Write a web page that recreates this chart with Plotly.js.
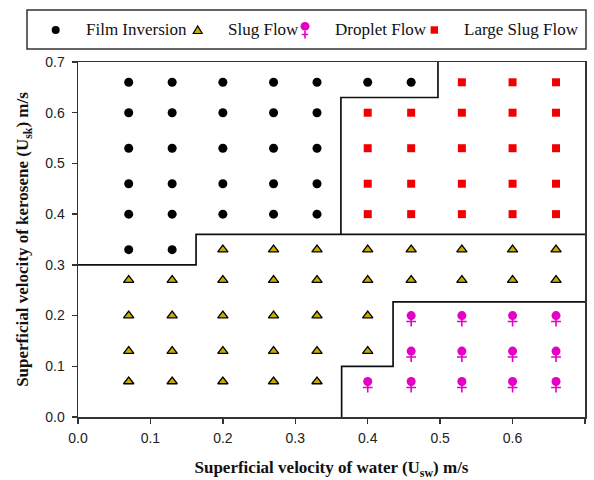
<!DOCTYPE html>
<html><head><meta charset="utf-8">
<script src="https://cdn.plot.ly/plotly-3.0.1.min.js"></script>
<style>html,body{margin:0;padding:0;background:#fff}#chart{width:594px;height:480px}</style>
</head><body><div id="chart"></div>
<script>
// ---- data ----
const filmX = [0.07,0.13,0.20,0.27,0.33,0.40,0.46,
               0.07,0.13,0.20,0.27,0.33,
               0.07,0.13,0.20,0.27,0.33,
               0.07,0.13,0.20,0.27,0.33,
               0.07,0.13,0.20,0.27,0.33,
               0.07,0.13];
const filmY = [0.66,0.66,0.66,0.66,0.66,0.66,0.66,
               0.60,0.60,0.60,0.60,0.60,
               0.53,0.53,0.53,0.53,0.53,
               0.46,0.46,0.46,0.46,0.46,
               0.40,0.40,0.40,0.40,0.40,
               0.33,0.33];
const slugX = [0.20,0.27,0.33,0.40,0.46,0.53,0.60,0.66,
               0.07,0.13,0.20,0.27,0.33,0.40,0.46,0.53,0.60,0.66,
               0.07,0.13,0.20,0.27,0.33,0.40,
               0.07,0.13,0.20,0.27,0.33,0.40,
               0.07,0.13,0.20,0.27,0.33];
const slugY = [0.33,0.33,0.33,0.33,0.33,0.33,0.33,0.33,
               0.27,0.27,0.27,0.27,0.27,0.27,0.27,0.27,0.27,0.27,
               0.20,0.20,0.20,0.20,0.20,0.20,
               0.13,0.13,0.13,0.13,0.13,0.13,
               0.07,0.07,0.07,0.07,0.07];
const dropX = [0.46,0.53,0.60,0.66,
               0.46,0.53,0.60,0.66,
               0.40,0.46,0.53,0.60,0.66];
const dropY = [0.20,0.20,0.20,0.20,
               0.13,0.13,0.13,0.13,
               0.07,0.07,0.07,0.07,0.07];
const largeX = [0.53,0.60,0.66,
                0.40,0.46,0.53,0.60,0.66,
                0.40,0.46,0.53,0.60,0.66,
                0.40,0.46,0.53,0.60,0.66,
                0.40,0.46,0.53,0.60,0.66];
const largeY = [0.66,0.66,0.66,
                0.60,0.60,0.60,0.60,0.60,
                0.53,0.53,0.53,0.53,0.53,
                0.46,0.46,0.46,0.46,0.46,
                0.40,0.40,0.40,0.40,0.40];
// transition boundaries
const boundAX = [0, 0.163, 0.163, 0.70];
const boundAY = [0.30, 0.30, 0.36, 0.36];
const boundBX = [0.363, 0.363, 0.497, 0.497];
const boundBY = [0.36, 0.63, 0.63, 0.70];
const boundCX = [0.364, 0.364, 0.435, 0.435, 0.70];
const boundCY = [0, 0.10, 0.10, 0.227, 0.227];
const tickVals = [0, 0.1, 0.2, 0.3, 0.4, 0.5, 0.6, 0.7];
const tickText = ['0.0','0.1','0.2','0.3','0.4','0.5','0.6','0.7'];
const legendNames = ['Film Inversion','Slug Flow','Droplet Flow','Large Slug Flow'];

// ---- styles ----
const MAG = '#e400c4';
const TRI = '#c8ad00';
const RED = '#f00000';
const serif = 'Liberation Serif, Times New Roman, serif';
const sans = 'Liberation Sans, Arial, sans-serif';

const bline = {color:'#111', width:1.7};
const traces = [
  {x:boundAX, y:boundAY, mode:'lines', line:bline, hoverinfo:'skip', showlegend:false, cliponaxis:false},
  {x:boundBX, y:boundBY, mode:'lines', line:bline, hoverinfo:'skip', showlegend:false, cliponaxis:false},
  {x:boundCX, y:boundCY, mode:'lines', line:bline, hoverinfo:'skip', showlegend:false, cliponaxis:false},
  {x:filmX, y:filmY, mode:'markers', name:legendNames[0], showlegend:false,
   marker:{symbol:'circle', size:9, color:'#000'}},
  {x:slugX, y:slugY, mode:'markers', name:legendNames[1], showlegend:false,
   marker:{symbol:'triangle-up', size:9, color:TRI, line:{color:'#000', width:1.3}}},
  {x:dropX, y:dropY, mode:'markers', name:legendNames[2], showlegend:false,
   marker:{symbol:'circle', size:9, color:MAG}},
  {x:dropX, y:dropY, yaxis:'y2', mode:'markers', name:legendNames[2], showlegend:false, hoverinfo:'skip',
   marker:{symbol:'cross-thin', size:7, color:MAG, line:{color:MAG, width:1.6}}},
  {x:largeX, y:largeY, mode:'markers', name:legendNames[3], showlegend:false,
   marker:{symbol:'square', size:8, color:RED}}
];

// legend (custom, in plot-fraction coordinates)
const L = 78, T = 62, W = 507, H = 355;
const px = v => (v - L) / W;
const py = v => (T + H - v) / H;
const legY = py(30);
const pixShape = (ax, extra) => Object.assign({xref:'paper', yref:'paper', xsizemode:'pixel', ysizemode:'pixel', xanchor:px(ax), yanchor:legY}, extra);
const shapes = [
  {type:'rect', xref:'paper', yref:'paper', x0:px(27), x1:px(586), y0:py(49), y1:py(10),
   line:{color:'#333', width:1.5}, fillcolor:'rgba(0,0,0,0)'},
  pixShape(55.7, {type:'circle', x0:-4, x1:4, y0:-4, y1:4, fillcolor:'#000', line:{width:0}}),
  pixShape(197.7, {type:'path', path:'M -4.5,-3.5 L 4.5,-3.5 L 0,4 Z', fillcolor:TRI, line:{color:'#000', width:1.2}}),
  pixShape(305, {type:'circle', x0:-4.5, x1:4.5, y0:-0.5, y1:8, fillcolor:MAG, line:{width:0}}),
  pixShape(305, {type:'path', path:'M 0,-0.5 L 0,-8.5 M -3.2,-4.5 L 3.2,-4.5', line:{color:MAG, width:1.6}}),
  pixShape(434.3, {type:'rect', x0:-3.7, x1:3.7, y0:-3.7, y1:3.7, fillcolor:RED, line:{width:0}})
];
const legX = [84.3, 225.7, 333, 462.3];
const annotations = legendNames.map((t,i) => ({
  text:t, xref:'paper', yref:'paper', x:px(legX[i]), y:legY, xanchor:'left', yanchor:'middle',
  showarrow:false, font:{family:serif, size:17, color:'#111'}
}));

const axisCommon = {
  range:[0,0.7], tickvals:tickVals, ticktext:tickText, ticks:'outside', ticklen:5, tickwidth:1.3,
  tickcolor:'#333', showline:true, mirror:true, linecolor:'#333', linewidth:1.5,
  showgrid:false, zeroline:false, fixedrange:true,
  tickfont:{family:sans, size:14, color:'#222'}
};
const layout = {
  width:594, height:480,
  margin:{l:L, r:9, t:T, b:63},
  paper_bgcolor:'#fff', plot_bgcolor:'#fff',
  showlegend:false,
  xaxis:Object.assign({}, axisCommon, {
    ticklabelstandoff:3,
    title:{text:'Superficial velocity of water (U<sub>sw</sub>) m/s', font:{family:serif, size:17, color:'#111', weight:'bold'}, standoff:19}
  }),
  yaxis:Object.assign({}, axisCommon, {
    ticklabelstandoff:4,
    title:{text:'Superficial velocity of kerosene (U<sub>sk</sub>) m/s', font:{family:serif, size:17, color:'#111', weight:'bold'}, standoff:12}
  }),
  yaxis2:{overlaying:'y', range:[0.0118, 0.7118], visible:false, fixedrange:true},
  shapes:shapes,
  annotations:annotations
};
Plotly.newPlot('chart', traces, layout, {staticPlot:true, displayModeBar:false});
</script>
</body></html>
